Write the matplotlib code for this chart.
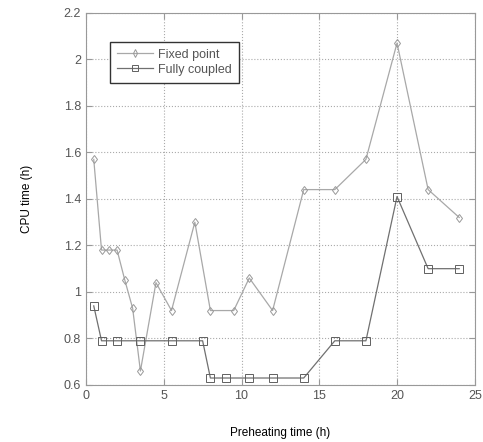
import matplotlib.pyplot as plt

# preheating time (h)
t_fixed = [0.5, 1, 1.5, 2, 2.5, 3, 3.5, 4.5, 5.5, 7, 8, 9.5, 10.5, 12, 14, 16, 18, 20, 22, 24]
cpu_fixed = [1.57, 1.18, 1.18, 1.18, 1.05, 0.93, 0.66, 1.04, 0.92, 1.30, 0.92, 0.92, 1.06, 0.92,
             1.44, 1.44, 1.57, 2.07, 1.44, 1.32]

t_coupled = [0.5, 1, 2, 3.5, 5.5, 7.5, 8, 9, 10.5, 12, 14, 16, 18, 20, 22, 24]
cpu_coupled = [0.94, 0.79, 0.79, 0.79, 0.79, 0.79, 0.63, 0.63, 0.63, 0.63, 0.63, 0.79, 0.79,
               1.41, 1.10, 1.10]

xticks = [0, 5, 10, 15, 20, 25]
yticks = [0.6, 0.8, 1.0, 1.2, 1.4, 1.6, 1.8, 2.0, 2.2]
ytick_labels = ['0.6', '0.8', '1', '1.2', '1.4', '1.6', '1.8', '2', '2.2']

plt.rcParams['font.family'] = ['Liberation Sans', 'DejaVu Sans']

fig = plt.figure(figsize=(4.83, 4.42), dpi=100)
ax = fig.add_axes([0.178, 0.129, 0.805, 0.842])

ax.plot(t_fixed, cpu_fixed, color='#a8a8a8', lw=0.9, marker='d', ms=4.5,
        mfc='none', mec='#999999', mew=0.7, label='Fixed point')
ax.plot(t_coupled, cpu_coupled, color='#707070', lw=0.9, marker='s', ms=5.5,
        mfc='none', mec='#606060', mew=0.7, label='Fully coupled')

ax.set_xlim(0, 25)
ax.set_ylim(0.6, 2.2)
ax.set_xticks(xticks)
ax.set_yticks(yticks)
ax.set_yticklabels(ytick_labels)
ax.tick_params(direction='in', labelsize=9, labelcolor='#555555', color='#999999',
               top=True, right=True, length=4)
ax.grid(True, linestyle=':', color='#aaaaaa', lw=0.8)
for s in ax.spines.values():
    s.set_color('#999999')
    s.set_linewidth(0.8)

ax.set_xlabel('Preheating time (h)', fontsize=8.5, labelpad=18)
ax.set_ylabel('CPU time (h)', fontsize=8.5, labelpad=22)

leg = ax.legend(loc='upper left', bbox_to_anchor=(0.062, 0.922), borderaxespad=0,
                fontsize=9, fancybox=False, framealpha=1, edgecolor='#333333',
                markerscale=0.8, handlelength=2.9, borderpad=0.55, labelspacing=0.25,
                handletextpad=0.4)
leg.get_frame().set_linewidth(1.0)
for txt in leg.get_texts():
    txt.set_color('#555555')

fig.savefig('out.png', dpi=100)
